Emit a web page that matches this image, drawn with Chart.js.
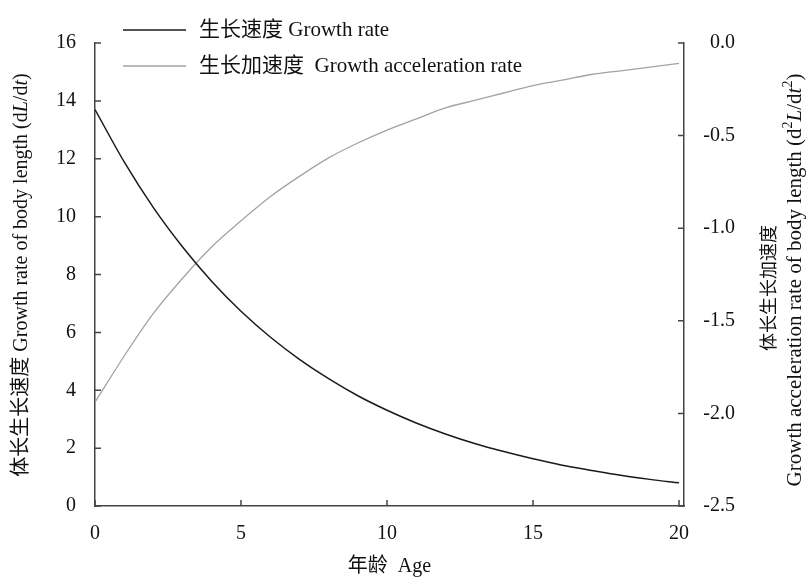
<!DOCTYPE html>
<html>
<head>
<meta charset="utf-8">
<script src="https://cdn.jsdelivr.net/npm/chart.js@4.4.0/dist/chart.umd.min.js"></script>
<style>
  html, body { margin: 0; padding: 0; background: #fff; }
</style>
</head>
<body>
<canvas id="growth-chart" width="806" height="577"></canvas>
<script>
// values, one per year of age
var ages = [0, 1, 2, 3, 4, 5, 6, 7, 8, 9, 10, 11, 12, 13, 14, 15, 16, 17, 18, 19, 20];
var growthRate = [13.70, 11.89, 10.31, 8.95, 7.76, 6.73, 5.84, 5.07, 4.40, 3.81, 3.31,
                  2.87, 2.49, 2.16, 1.88, 1.63, 1.41, 1.23, 1.06, 0.92, 0.80];
var growthAccel = [-1.94, -1.69, -1.46, -1.27, -1.10, -0.96, -0.83, -0.72, -0.62, -0.54, -0.47,
                   -0.41, -0.35, -0.31, -0.27, -0.23, -0.20, -0.17, -0.15, -0.13, -0.11];
var xTicks = [0, 5, 10, 15, 20];
var seriesLabels = ["生长速度 Growth rate", "生长加速度  Growth acceleration rate"];

var FONT = '"Liberation Serif", "Noto Sans CJK SC", serif';
var FS = 20;
var AXIS = "#444";

Chart.defaults.font.family = FONT;
Chart.defaults.font.size = FS;
Chart.defaults.color = "#111";

function toPoints(ys) {
  return ages.map(function (a, i) { return { x: a, y: ys[i] }; });
}

// one line of text made of plain / italic / superscript runs, centred on (cx, cy)
function drawRuns(ctx, runs, cx, cy, size, angle) {
  ctx.save();
  ctx.translate(cx, cy);
  ctx.rotate(angle);
  ctx.textBaseline = "middle";
  ctx.textAlign = "left";
  var fontOf = function (r) {
    var s = r.sup ? Math.round(size * 0.65) : size;
    return (r.i ? "italic " : "") + s + "px " + FONT;
  };
  var total = 0;
  runs.forEach(function (r) { ctx.font = fontOf(r); total += ctx.measureText(r.t).width; });
  var x = -total / 2;
  runs.forEach(function (r) {
    ctx.font = fontOf(r);
    ctx.fillStyle = "#111";
    ctx.fillText(r.t, x, r.sup ? -size * 0.32 : 0);
    x += ctx.measureText(r.t).width;
  });
  ctx.restore();
}

var decorations = {
  id: "decorations",
  afterDraw: function (chart) {
    var ctx = chart.ctx;
    var xs = chart.scales.x, yl = chart.scales.y, yr = chart.scales.y1;
    var area = chart.chartArea;

    // tick marks point into the plot
    ctx.save();
    ctx.strokeStyle = AXIS;
    ctx.lineWidth = 1.5;
    ctx.beginPath();
    xs.ticks.forEach(function (t) {
      var p = xs.getPixelForValue(t.value);
      ctx.moveTo(p, area.bottom); ctx.lineTo(p, area.bottom - 6);
    });
    yl.ticks.forEach(function (t) {
      var p = yl.getPixelForValue(t.value);
      ctx.moveTo(area.left, p); ctx.lineTo(area.left + 6, p);
    });
    yr.ticks.forEach(function (t) {
      var p = yr.getPixelForValue(t.value);
      ctx.moveTo(area.right, p); ctx.lineTo(area.right - 6, p);
    });
    ctx.stroke();
    ctx.restore();

    // legend
    var rows = [30, 66];
    chart.data.datasets.forEach(function (ds, i) {
      ctx.save();
      ctx.strokeStyle = ds.borderColor;
      ctx.lineWidth = ds.borderWidth;
      ctx.beginPath();
      ctx.moveTo(123, rows[i]); ctx.lineTo(186, rows[i]);
      ctx.stroke();
      ctx.font = "21px " + FONT;
      ctx.fillStyle = "#111";
      ctx.textBaseline = "middle";
      ctx.fillText(ds.label, 199, rows[i]);
      ctx.restore();
    });

    // axis titles
    drawRuns(ctx, [
      { t: "体长生长速度 Growth rate of body length (d" },
      { t: "L", i: true }, { t: "/d" }, { t: "t", i: true }, { t: ")" }
    ], 22, 275, 20, -Math.PI / 2);
    drawRuns(ctx, [{ t: "体长生长加速度" }], 770, 288, 18, -Math.PI / 2);
    drawRuns(ctx, [
      { t: "Growth acceleration rate of body length (d" }, { t: "2", sup: true },
      { t: "L", i: true }, { t: "/d" }, { t: "t", i: true }, { t: "2", sup: true }, { t: ")" }
    ], 795, 280, 21, -Math.PI / 2);
  }
};

var ctx = document.getElementById("growth-chart");

window.myChart = new Chart(ctx, {
  type: "line",
  data: {
    datasets: [
      {
        label: seriesLabels[0],
        data: toPoints(growthRate),
        yAxisID: "y",
        borderColor: "#1a1a1a",
        borderWidth: 1.5,
        pointRadius: 0,
        cubicInterpolationMode: "monotone",
        fill: false,
      },
      {
        label: seriesLabels[1],
        data: toPoints(growthAccel),
        yAxisID: "y1",
        borderColor: "#a3a3a3",
        borderWidth: 1.3,
        pointRadius: 0,
        cubicInterpolationMode: "monotone",
        fill: false,
      },
    ],
  },
  options: {
    responsive: false,
    animation: false,
    layout: { padding: { top: 43, right: 71, left: 0, bottom: 0 } },
    plugins: {
      legend: { display: false },
      tooltip: { enabled: false },
    },
    scales: {
      x: {
        type: "linear",
        min: 0,
        max: 20.17,
        afterBuildTicks: function (scale) {
          scale.ticks = xTicks.map(function (v) { return { value: v }; });
        },
        afterFit: function (scale) { scale.height = 71; },
        grid: { display: false, drawTicks: false },
        border: { display: true, color: AXIS, width: 1.5 },
        ticks: { padding: 16, maxRotation: 0, color: "#111" },
        title: {
          display: true,
          text: "年龄  Age",
          font: { size: 20, lineHeight: 1 },
          padding: { top: 0, bottom: 0 },
          color: "#111",
        },
      },
      y: {
        position: "left",
        min: 0,
        max: 16,
        ticks: { stepSize: 2, padding: 19, color: "#111" },
        afterFit: function (scale) { scale.width = 95; },
        grid: { display: false, drawTicks: false },
        border: { display: true, color: AXIS, width: 1.5 },
      },
      y1: {
        position: "right",
        min: -2.5,
        max: 0,
        ticks: {
          stepSize: 0.5,
          crossAlign: "far",
          color: "#111",
          callback: function (v) { return Number(v).toFixed(1); },
        },
        afterFit: function (scale) { scale.width = 51; },
        grid: { display: false, drawTicks: false },
        border: { display: true, color: AXIS, width: 1.5 },
      },
    },
  },
  plugins: [decorations],
});
</script>
</body>
</html>
